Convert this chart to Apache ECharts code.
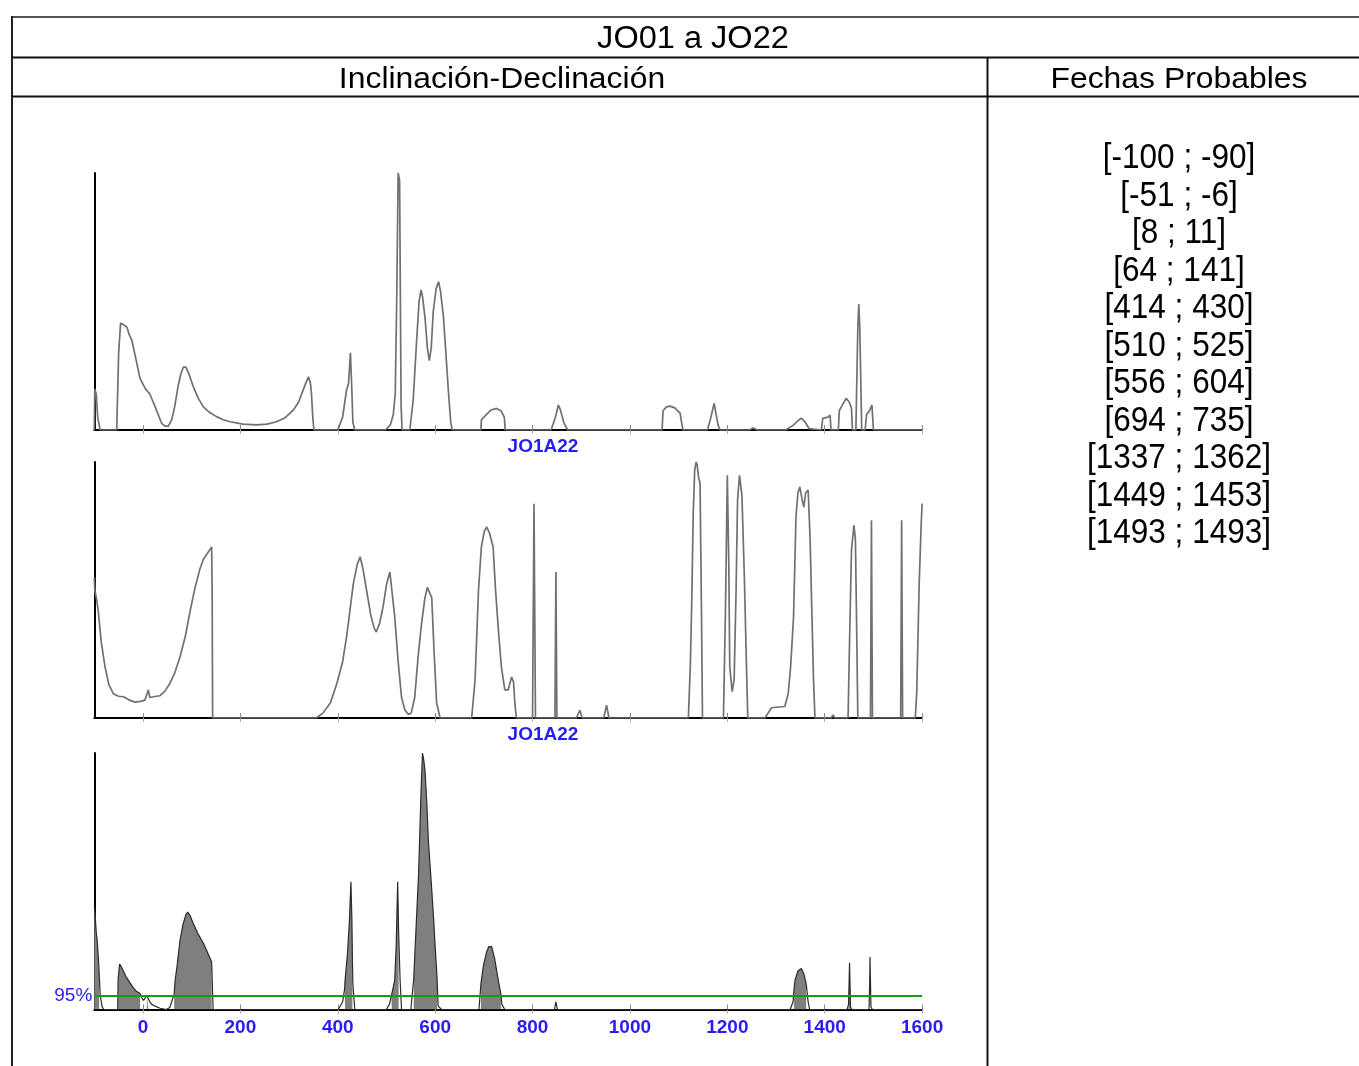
<!DOCTYPE html>
<html>
<head>
<meta charset="utf-8">
<script src="https://cdn.jsdelivr.net/npm/echarts@6/dist/echarts.min.js"></script>
<style>
html,body{margin:0;padding:0;background:#fff;}
#c{width:1359px;height:1066px;}
</style>
</head>
<body>
<div id="c"></div>
<script>
// ---------- data ----------
const title = 'JO01 a JO22';
const headerLeft = 'Inclinación-Declinación';
const headerRight = 'Fechas Probables';
const panelLabel = 'JO1A22';
const confidenceLabel = '95%';
const confidenceLevel = 5.3;
const xTicks = [0, 200, 400, 600, 800, 1000, 1200, 1400, 1600];
const xMin = -100, xMax = 1600;

// probable date intervals (also drive the shaded areas of the combined curve)
const dateIntervals = [
  [-100, -90], [-51, -6], [8, 11], [64, 141], [414, 430], [510, 525],
  [556, 604], [694, 735], [1337, 1362], [1449, 1453], [1493, 1493]
];

// panel 1 : inclination probability curve
const inclination = [
  [-100,0],[-99,16],[-96,14],[-93,5],[-88,0],[-54,0],[-50,30],[-46,41.6],[-40,41],[-33,40],[-28,37],
  [-23,35],[-15,28],[-6,20],[5,16],[14,14],[25,9],[38,2.7],[45,1.5],[52,1.5],[59,4],[65,9],[72,17],
  [78,22],[83,24.5],[88,24.5],[94,22],[103,17],[113,12.5],[124,9],[137,6.8],[151,5.2],[165,4],[179,3.2],
  [205,2.3],[233,2],[255,2.3],[274,3.2],[292,4.8],[309,7.8],[320,11],[329,15.6],[336,19],[340,20.7],
  [344,18],[346,14],[349,4],[351,0],[400,0],[410,5],[418,15.6],[422,18],[426,30],[429,15],[431,3],[435,0],
  [498,0],[508,2],[514,6],[518,14],[521,50],[524,100],[527,97],[530,10],[532,0],[548,0],[555,12],[562,35],
  [567,50],[571,54.5],[574,52],[579,44],[584,32],[588,27],[592,32],[596,46],[602,55],[607,57.7],[611,54],
  [617,44],[622,30],[627,15.6],[632,3],[635,0],[694,0],[695,4],[705,6],[715,7.8],[726,8.4],[735,7.5],
  [742,5],[744,0],[838,0],[847,5],[853,9.7],[857,8],[864,3],[872,0],[1066,0],[1068,7.5],[1075,9],
  [1082,9.3],[1092,8.6],[1103,6.6],[1106,3],[1109,0],[1159,0],[1165,4],[1170,8],[1173,10.4],[1177,6],
  [1181,2],[1185,0],[1245,0],[1253,0.8],[1262,0],[1320,0],[1335,1.8],[1345,3.6],[1352,4.6],[1360,3],
  [1368,0.5],[1372,0],[1393,0],[1396,4.5],[1402,4.8],[1407,5],[1411,5.8],[1413,0],[1428,0],[1430,7.5],
  [1437,10],[1444,12.3],[1450,11],[1455,8.5],[1457,0],[1464,0],[1468,40],[1470,49],[1472,40],[1476,0],
  [1483,0],[1486,6],[1492,7.5],[1497,9.7],[1500,0],[1600,0]
];

// panel 2 : declination probability curve
const declination = [
  [-100,55],[-99,50],[-95,46],[-92,42],[-86,30],[-78,20],[-70,13],[-61,9.5],[-50,8.5],[-40,8.3],[-28,7],
  [-16,6.2],[-5,6.5],[4,7],[8,7.5],[11,11],[14,8],[18,8.3],[27,8.5],[35,8.7],[45,10.5],[55,13.4],[65,17.5],
  [76,23.8],[87,32],[97,42],[107,51],[117,58.3],[124,62],[131,64],[141,66.8],[142,50],[143,0],[356,0],
  [370,2],[385,6],[398,13.4],[410,22],[418,31.6],[425,42],[432,52.5],[440,60],[446,63],[452,58],[459,50],
  [468,40],[475,35],[479,33.6],[486,37],[493,43.4],[500,52],[504,55],[507,57],[511,50],[517,39.5],[524,22],
  [531,8],[538,3],[545,1.4],[551,2],[558,8],[565,24],[572,36.8],[579,47],[584,51],[588,51],[593,47],
  [598,25],[603,6],[610,0],[675,0],[682,15],[689,50],[695,67],[701,73],[706,74.6],[712,72],[719,66.8],
  [724,50],[730,34],[736,20],[743,11],[750,11],[757,16],[761,14],[764,5],[767,0],[800,0],[803,83.7],
  [806,0],[846,0],[848,57],[850,0],[890,0],[897,3],[902,0],[946,0],[952,5],[957,0],[1120,0],[1124,20],
  [1127,46],[1130,80],[1133,96.8],[1136,100],[1138,99],[1141,94],[1144,91.7],[1147,40],[1149,0],[1192,0],
  [1196,40],[1200,94.8],[1203,60],[1205,20],[1210,10.3],[1214,15],[1218,50],[1221,85],[1225,94.8],
  [1230,87],[1235,55],[1240,15],[1242,0],[1277,0],[1284,2],[1291,4],[1305,4.3],[1318,4.5],[1325,9.5],
  [1330,20],[1336,39.5],[1341,78.5],[1345,88],[1349,90.2],[1353,86],[1357,82.4],[1361,88],[1366,89],
  [1370,70],[1373,46],[1377,15],[1380,0],[1413,0],[1417,1.2],[1421,0],[1448,0],[1451,30],[1455,65.5],
  [1460,75.3],[1463,70],[1466,30],[1468,0],[1494,0],[1496,77.2],[1498,0],[1556,0],[1558,77.2],[1560,0],
  [1586,0],[1589,10],[1594,52.5],[1598,75],[1600,83.8]
];

// panel 3 : combined probability curve
const combined = [
  [-100,40],[-98.5,37.5],[-96,30],[-94,27],[-91,18],[-88,6],[-84,1],[-80,0],[-52,0],[-51,12],[-48,17.7],
  [-44,16.5],[-38,14],[-34,12.5],[-27,10.5],[-20,8.5],[-13,7],[-6,6.2],[-2,4.5],[1,3.5],[4,4],[8,5.5],
  [10,6.2],[11,6],[14,3],[18,2],[26,1.2],[35,0.5],[48,0],[55,0.8],[59,1.5],[64,6],[66,11.4],[70,17],
  [76,27],[82,33],[88,37],[92,38],[97,36.5],[103,33.6],[113,29.5],[124,25.8],[133,22],[141,18.5],[142,18],
  [144,0],[401,0],[410,3],[414,8],[415,11.4],[420,22],[424,34.9],[427,49.8],[429,35],[430,20],[431,10],
  [435,0],[500,0],[506,2],[511,6.2],[517,11.4],[520,25],[523,49.8],[525,30],[528,11.4],[531,0],[550,0],
  [556,12],[558,20.5],[566,53],[571,85],[574,100],[576,98],[579,93.5],[583,80],[586,66],[590,55],
  [593,46.6],[597,35],[600,24.5],[604,12],[606,1.4],[613,0],[690,0],[694,10],[699,17],[705,22],[710,24.5],
  [716,24.5],[722,20],[730,11],[735,6],[737,2],[743,0],[845,0],[848,3],[851,0],[1329,0],[1335,3],
  [1337,8],[1339,11.4],[1345,15],[1352,16],[1357,14],[1362,10],[1366,3],[1369,0],[1446,0],[1449,2],
  [1450,10],[1451,18.2],[1452,18.2],[1453,1],[1456,0],[1491,0],[1492.5,12],[1493,20.5],[1493.5,20.5],
  [1495,1],[1498,0],[1600,0]
];

// ---------- build ----------
const FONT = "'Liberation Sans', Arial, sans-serif";
const BLUE = '#2a1cf5';

function interp(data, x) {
  for (let i = 0; i < data.length - 1; i++) {
    const a = data[i], b = data[i + 1];
    if (x >= a[0] && x <= b[0]) {
      if (b[0] === a[0]) return a[1];
      return a[1] + (b[1] - a[1]) * (x - a[0]) / (b[0] - a[0]);
    }
  }
  return 0;
}
function segment(data, lo, hi) {
  const seg = [[lo, interp(data, lo)]];
  data.forEach(p => { if (p[0] > lo && p[0] < hi) seg.push(p); });
  seg.push([hi, interp(data, hi)]);
  return seg;
}

const grids = [
  { left: 94.3, width: 827.8, top: 173, height: 257 },
  { left: 94.3, width: 827.8, top: 462, height: 256 },
  { left: 94.3, width: 827.8, top: 753, height: 256.5 }
];

const xAxes = [], yAxes = [];
grids.forEach((g, i) => {
  xAxes.push({
    type: 'value', gridIndex: i, min: xMin, max: xMax, position: 'bottom',
    axisLine: { show: true, onZero: false, lineStyle: { color: '#000', width: 2 } },
    axisTick: { show: true, inside: true, length: 5, customValues: xTicks, lineStyle: { color: '#888', width: 1 } },
    axisLabel: {
      show: i === 2, customValues: xTicks, color: BLUE, fontSize: 19, fontFamily: FONT,
      fontWeight: 'bold', margin: 9, formatter: v => String(v)
    },
    splitLine: { show: false }
  });
  xAxes.push({
    type: 'value', gridIndex: i, min: xMin, max: xMax, position: 'bottom',
    axisLine: { show: false, onZero: false },
    axisTick: { show: true, inside: false, length: 4, customValues: xTicks, lineStyle: { color: '#aaa', width: 1 } },
    axisLabel: { show: false },
    splitLine: { show: false }
  });
  yAxes.push({
    type: 'value', gridIndex: i, min: 0, max: 100, position: 'left',
    axisLine: { show: true, onZero: false, lineStyle: { color: '#000', width: 2 } },
    axisTick: { show: false }, axisLabel: { show: false }, splitLine: { show: false }
  });
});

const series = [
  {
    type: 'line', xAxisIndex: 0, yAxisIndex: 0, data: inclination, showSymbol: false, symbol: 'none',
    lineStyle: { color: '#707070', width: 1.7 }, z: 3
  },
  {
    type: 'line', xAxisIndex: 2, yAxisIndex: 1, data: declination, showSymbol: false, symbol: 'none',
    lineStyle: { color: '#707070', width: 1.7 }, z: 3
  }
];
dateIntervals.forEach(iv => {
  series.push({
    type: 'line', xAxisIndex: 4, yAxisIndex: 2, data: segment(combined, iv[0], iv[1]),
    showSymbol: false, symbol: 'none', lineStyle: { width: 0, color: '#7f7f7f' },
    areaStyle: { color: '#7f7f7f', opacity: 1 }, z: 2
  });
});
series.push({
  type: 'line', xAxisIndex: 4, yAxisIndex: 2, data: combined, showSymbol: false, symbol: 'none',
  lineStyle: { color: '#2a2a2a', width: 1.2 }, z: 4,
  markLine: {
    silent: true, symbol: 'none', animation: false,
    lineStyle: { color: '#10a010', width: 2, type: 'solid' },
    label: { show: true, position: 'start', formatter: confidenceLabel, color: BLUE, fontSize: 19, fontFamily: FONT, distance: 2 },
    data: [{ yAxis: confidenceLevel }]
  }
});

// table frame + texts
const graphic = [
  { type: 'line', shape: { x1: 12, y1: 17, x2: 1359, y2: 17 }, style: { stroke: '#555', lineWidth: 2 } },
  { type: 'line', shape: { x1: 12, y1: 16, x2: 12, y2: 1066 }, style: { stroke: '#222', lineWidth: 2 } },
  { type: 'line', shape: { x1: 12, y1: 57.5, x2: 1359, y2: 57.5 }, style: { stroke: '#111', lineWidth: 2 } },
  { type: 'line', shape: { x1: 12, y1: 96.5, x2: 1359, y2: 96.5 }, style: { stroke: '#111', lineWidth: 2 } },
  { type: 'line', shape: { x1: 987.5, y1: 57, x2: 987.5, y2: 1066 }, style: { stroke: '#111', lineWidth: 2 } },
  { type: 'text', x: 693, y: 39.5, scaleX: 1.05, style: { text: title, font: '31px ' + FONT, fill: '#000', align: 'center', verticalAlign: 'middle' } },
  { type: 'text', x: 502, y: 79.5, scaleX: 1.1, style: { text: headerLeft, font: '29px ' + FONT, fill: '#000', align: 'center', verticalAlign: 'middle' } },
  { type: 'text', x: 1179, y: 79.5, scaleX: 1.1, style: { text: headerRight, font: '29px ' + FONT, fill: '#000', align: 'center', verticalAlign: 'middle' } },
  { type: 'text', x: 543, y: 447, style: { text: panelLabel, font: 'bold 19px ' + FONT, fill: BLUE, align: 'center', verticalAlign: 'middle' } },
  { type: 'text', x: 543, y: 734.5, style: { text: panelLabel, font: 'bold 19px ' + FONT, fill: BLUE, align: 'center', verticalAlign: 'middle' } }
];
dateIntervals.forEach((iv, i) => {
  graphic.push({
    type: 'text', x: 1179, y: 158.5 + i * 37.5, scaleX: 0.9,
    style: { text: '[' + iv[0] + ' ; ' + iv[1] + ']', font: '35px ' + FONT, fill: '#000', align: 'center', verticalAlign: 'middle' }
  });
});

const chart = echarts.init(document.getElementById('c'), null, { renderer: 'canvas' });
chart.setOption({
  animation: false,
  backgroundColor: '#fff',
  grid: grids,
  xAxis: xAxes,
  yAxis: yAxes,
  series: series,
  graphic: graphic
});
</script>
</body>
</html>
